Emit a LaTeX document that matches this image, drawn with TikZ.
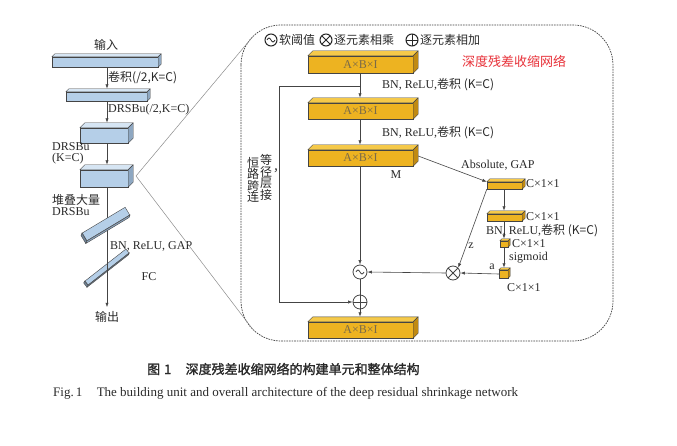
\documentclass[tikz,border=0pt]{standalone}
\usepackage{fontspec}
\setmainfont{Liberation Serif}
\newfontfamily\cjk{Noto Sans CJK SC}
\newfontfamily\cjkb[FakeBold=1.6]{Noto Sans CJK SC}
\usetikzlibrary{arrows.meta,calc}
\definecolor{bluef}{HTML}{B5CFE8}
\definecolor{bluet}{HTML}{D6E5F3}
\definecolor{blues}{HTML}{8EA7C1}
\definecolor{orf}{HTML}{EDB321}
\definecolor{ort}{HTML}{F5C94A}
\definecolor{ors}{HTML}{C08A12}
\definecolor{edge}{HTML}{444444}
\definecolor{txt}{HTML}{2A2A2A}
\definecolor{boxtxt}{HTML}{7A6A48}
\definecolor{redt}{HTML}{E8323A}
\newcommand\cuboid[8]{%
 \node[draw=edge, fill=#7f, line width=0.4pt, minimum width=#4pt, minimum height=#5pt, inner sep=0pt, text=boxtxt] (#1) at (#2,#3) {#8};
 \filldraw[draw=edge, fill=#7t, line width=0.4pt, line join=round] (#1.north west) -- ++(#6,-#6) -- ($(#1.north east)+(#6,-#6)$) -- (#1.north east) -- cycle;
 \filldraw[draw=edge, fill=#7s, line width=0.4pt, line join=round] (#1.north east) -- ++(#6,-#6) -- ($(#1.south east)+(#6,-#6)$) -- (#1.south east) -- cycle;
}
\tikzset{
 arr/.style={draw=edge, line width=0.6pt, -{Latex[length=4.5pt,width=3.2pt]}},
 ln/.style={draw=edge, line width=0.6pt},
 lbl/.style={text=txt, inner sep=0pt, anchor=west},
 fanl/.style={draw=black!45, line width=0.5pt},
 slab/.style={draw=edge, fill=bluef, line width=0.4pt, inner sep=0pt},
 opc/.style={circle, draw=edge, line width=0.8pt, minimum size=14pt, inner sep=0pt, fill=white},
 lsym/.style={circle, draw=black!85, line width=1pt, minimum size=12pt, inner sep=0pt},
 tildepic/.style={path picture={\draw[line width=0.8pt] ([xshift=-4pt]path picture bounding box.center) sin ++(2,-2) cos ++(2,2) sin ++(2,2) cos ++(2,-2);}},
 crosspic/.style={path picture={\draw[line width=0.8pt] ([shift={(-5,-5)}]path picture bounding box.center) -- ([shift={(5,5)}]path picture bounding box.center) ([shift={(-5,5)}]path picture bounding box.center) -- ([shift={(5,-5)}]path picture bounding box.center);}},
 pluspic/.style={path picture={\draw[line width=0.8pt] (path picture bounding box.west) -- (path picture bounding box.east) (path picture bounding box.north) -- (path picture bounding box.south);}},
}
\begin{document}
\begin{tikzpicture}[x=1pt,y=-1pt, font=\fontsize{12}{13}\selectfont]
\useasboundingbox (0,0) rectangle (677,446);
\fill[white] (0,0) rectangle (677,446);

% ---------------- left column ----------------
\coordinate (ax) at (107,0);
\node[lbl, anchor=center] (in) at (106,45) {\cjk 输入};
\cuboid{B1}{105}{62}{106}{10}{3}{blue}{}
\cuboid{B2}{106.5}{96.5}{81}{9}{3}{blue}{}
\cuboid{B3}{104}{135.5}{48}{15}{5}{blue}{}
\cuboid{B4}{104}{178.5}{48}{17}{5}{blue}{}

\node[lbl, anchor=center] (out) at (107,317) {\cjk 输出};

\draw[arr] (B1.south -| ax) -- ($(B2.north -| ax)+(0,-3)$);
\draw[arr] (B2.south -| ax) -- ($(B3.north -| ax)+(0,-5)$);
\draw[arr] (B3.south -| ax) -- ($(B4.north -| ax)+(0,-5)$);
\draw[arr] (B4.south -| ax) -- ($(out.north)+(0,-4)$);

\node[slab, rotate=31, minimum width=50pt, minimum height=9pt] (T1) at (106,224) {};
\filldraw[draw=edge, fill=blues, line width=0.4pt] (T1.south west) -- (T1.south east) -- ($(T1.south east)+(-1,2.5)$) -- ($(T1.south west)+(-1,2.5)$) -- cycle;
\filldraw[draw=edge, fill=blues!80!black, line width=0.4pt] (T1.north west) -- (T1.south west) -- ($(T1.south west)+(-1,2.5)$) -- ($(T1.north west)+(-1,2.5)$) -- cycle;
\node[slab, rotate=38, minimum width=52pt, minimum height=5pt] (T2) at (107,267) {};
\filldraw[draw=edge, fill=blues, line width=0.4pt] (T2.south west) -- (T2.south east) -- ($(T2.south east)+(-1,2)$) -- ($(T2.south west)+(-1,2)$) -- cycle;
\filldraw[draw=edge, fill=blues!80!black, line width=0.4pt] (T2.north west) -- (T2.south west) -- ($(T2.south west)+(-1,2)$) -- ($(T2.north west)+(-1,2)$) -- cycle;
\draw[ln] (T2.center -| ax) ++(0,-8) -- ++(0,16);

\node[lbl] (lc1) at (108,78) {\cjk{卷积}(/2,K=C)};
\node[lbl] (lc2) at (108,110) {DRSBu(/2,K=C)};
\node[lbl, align=left, font=\fontsize{12}{11}\selectfont] (lc3) at (52,153) {DRSBu\\(K=C)};
\node[lbl, align=left, font=\fontsize{12}{11.5}\selectfont] (lc4) at (52,205) {\cjk{堆叠大量}\\DRSBu};
\node[lbl] (lc5) at (110,246) {BN, ReLU, GAP};
\node[lbl, anchor=center] (lc6) at (149,277) {FC};

% ---------------- frame ----------------
\draw[draw=black!75, line width=0.7pt, dash pattern=on 1.6pt off 1pt, rounded corners=40pt] (241,25) rectangle (613,341);
\coordinate (fan) at (136,176);
\coordinate (ftop) at (252.7,36.7);
\coordinate (fbot) at (252.7,329.3);
\draw[fanl] (fan) -- (ftop);
\draw[fanl] (fan) -- (fbot);

% legend
\node[lsym, tildepic] (s1) at (271,40) {};
\node[lbl] (s1t) at (279,40) {\cjk 软阈值};
\node[lsym, crosspic] (s2) at (326,40) {};
\node[lbl] (s2t) at (334,40) {\cjk 逐元素相乘};
\node[lsym, pluspic] (s3) at (412,40) {};
\node[lbl] (s3t) at (420,40) {\cjk 逐元素相加};
\node[lbl, text=redt, font=\cjk\fontsize{13}{14}\selectfont] (title) at (462,61) {深度残差收缩网络};

% ---------------- unit ----------------
\coordinate (mx) at (360,0);
\cuboid{A1}{360.5}{64.5}{105}{17}{5}{or}{A×B×I}
\cuboid{A2}{360.5}{111}{105}{16}{5}{or}{A×B×I}
\cuboid{A3}{360.5}{158}{105}{16}{5}{or}{A×B×I}
\cuboid{A4}{360.5}{330}{105}{16}{5}{or}{A×B×I}

\node[opc, tildepic] (soft) at (360,272) {};
\node[opc, pluspic] (plus) at (360,302) {};
\node[opc, crosspic] (mul) at (453,273) {};

\cuboid{SB1}{504.5}{185.5}{35}{7}{3}{or}{}
\cuboid{SB2}{504.5}{217.5}{35}{7}{3}{or}{}
\cuboid{SB3}{504}{244}{8}{6}{2}{or}{}
\cuboid{SB4}{503.5}{274}{9}{8}{2}{or}{}

\coordinate (sk) at (360,86);
\coordinate (skl) at (279,86);
\coordinate (bx) at (504,0);
\draw[arr] (A1.south -| mx) -- ($(A2.north -| mx)+(0,-5)$);
\draw[arr] (A2.south -| mx) -- ($(A3.north -| mx)+(0,-5)$);
\draw[arr] (A3.south -| mx) -- (soft.north);
\draw[ln] (soft.south) -- (plus.north);
\draw[arr] (plus.south) -- ($(A4.north -| mx)+(0,-5)$);
\draw[arr] (sk) -- (skl) |- (plus.west);
\draw[arr] ($(A3.east)+(5,-2)$) -- (SB1.north west);
\draw[arr] (SB1.south west) -- (mul.north east);
\draw[arr] (SB1.south -| bx) -- ($(SB2.north -| bx)+(0,-3)$);
\draw[arr] (SB2.south -| bx) -- ($(SB3.north -| bx)+(0,-2)$);
\draw[arr] (SB3.south -| bx) -- ($(SB4.north -| bx)+(0,-2)$);
\draw[arr] (SB4.west) -- (mul.east);
\draw[arr] (mul.west) -- (soft.east);

\node[text=txt, align=center, inner sep=0pt, font=\cjk\fontsize{12}{11.5}\selectfont] (hl) at (253,180) {恒\\路\\跨\\连};
\node[text=txt, align=center, inner sep=0pt, font=\cjk\fontsize{12}{11.5}\selectfont] (hr) at (266,177.5) {等\\径\\层\\接};
\node[text=txt, inner sep=0pt, font=\cjk\fontsize{12}{12}\selectfont] (hc) at (279,171) {，};

\node[lbl] (c1) at (382,85) {BN, ReLU,\cjk{卷积} (K=C)};
\node[lbl] (c2) at (382,133) {BN, ReLU,\cjk{卷积} (K=C)};
\node[lbl, anchor=center] (mm) at (396,175) {M};
\node[lbl] (abs) at (461,165) {Absolute, GAP};
\node[lbl] (d1) at (526,184) {C×1×1};
\node[lbl] (d2) at (526,217) {C×1×1};
\node[lbl] (c3) at (486,231) {BN, ReLU,\cjk{卷积} (K=C)};
\node[lbl] (d3) at (512,244) {C×1×1};
\node[lbl] (sg) at (509,258) {sigmoid};
\node[lbl, anchor=center] (aa) at (492,267) {a};
\node[lbl] (d4) at (507,288) {C×1×1};
\node[lbl, anchor=center] (zz) at (471,246) {z};

% ---------------- captions ----------------
\node[lbl, font=\cjkb\fontsize{13}{14}\selectfont] (cap1) at (147,369) {图\hspace{0.3em}1\hspace{1.1em}深度残差收缩网络的构建单元和整体结构};
\node[lbl, font=\fontsize{13}{14}\selectfont] (cap2) at (53,393) {Fig.\,1\hspace{1.1em}The building unit and overall architecture of the deep residual shrinkage network};
\end{tikzpicture}
\end{document}
